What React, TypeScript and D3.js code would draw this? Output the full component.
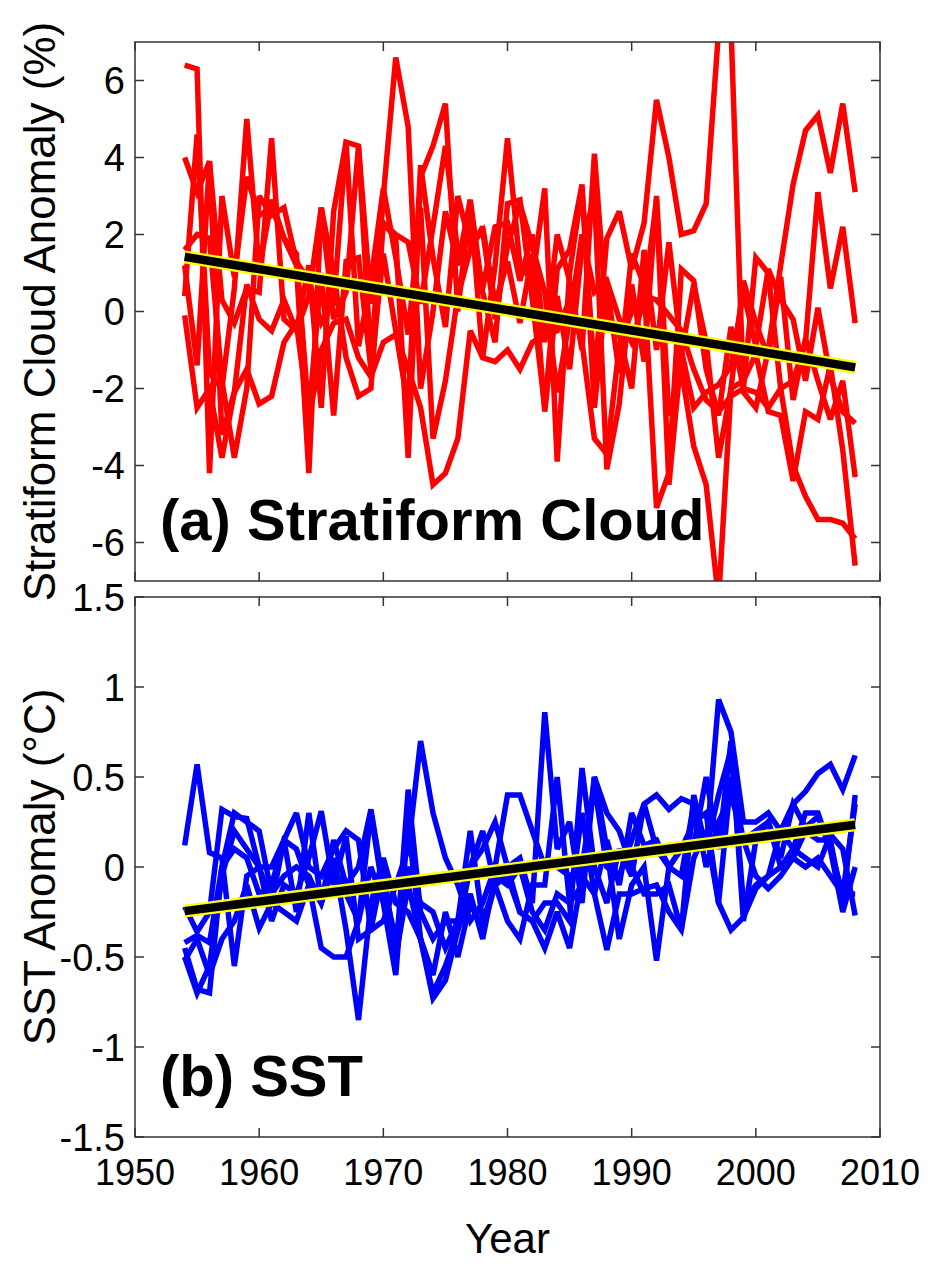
import { useEffect } from "react";
import * as d3 from "d3";

// Years covered by every series
const YEARS = d3.range(1954, 2009);

// (a) stratiform cloud anomaly (%), one row per ensemble member, 1954–2008
const CLOUD_1 = [6.4, 6.3, -4.2, 3.0, 0.9, 3.5, 2.5, 2.7, 1.9, 1.2, -4.2, 2.7, 1.0, -1.2, -2.2, -2.0, 2.3, 1.9, -3.8, 3.5, 4.3, 5.4, 0.0, 2.9, -1.2, 1.2, 4.5, 1.2, 0.8, 3.2, -3.9, 1.0, 3.2, -1.7, 1.9, 2.6, 1.1, 2.3, 5.5, 4.0, 2.0, 2.1, 2.8, 7.3, 7.4, -2.1, -2.5, -1.0, 1.2, 3.3, 4.7, 5.1, 3.6, 5.4, 3.1];
const CLOUD_2 = [4.0, 3.1, 3.9, 0.3, -0.3, 0.6, 0.5, 4.5, -0.2, -0.5, 0.4, 2.7, -0.2, 0.5, 4.3, -1.3, 3.0, 6.6, 4.8, -2.0, 0.0, 2.6, 1.2, 2.9, 0.5, -0.8, 2.8, 2.9, 0.3, -2.5, 1.1, 1.6, 3.3, -2.5, 0.7, -1.6, 1.5, 0.7, -5.1, -4.2, 1.1, 0.8, -1.5, -2.7, -0.4, -2.0, 1.4, 1.0, -2.0, -1.8, -0.8, 3.1, 0.6, 2.2, -0.3];
const CLOUD_3 = [1.6, 2.0, 1.9, -1.8, -3.8, -2.0, 3.0, 2.5, 2.7, 1.3, 0.8, -0.3, 0.2, 4.4, 4.3, 0.2, 2.3, 2.0, 1.8, 0.2, 2.2, 4.3, 1.5, 2.2, 0.6, 2.2, 2.3, 0.8, 2.0, -0.8, 2.0, 0.8, -1.0, 4.1, -0.2, -0.6, -2.0, 1.6, -1.0, 1.8, -1.0, -2.5, -2.1, -1.9, -1.4, 0.5, -0.9, 1.1, 0.3, -0.2, -1.8, 0.1, -1.7, -2.6, -2.9];
const CLOUD_4 = [0.4, 4.6, -1.6, -2.0, 0.6, 5.0, 1.1, 2.9, 1.9, 1.5, -2.7, 1.0, -2.7, 1.3, 1.4, -1.5, 1.5, -0.5, -2.5, 3.8, 1.4, -0.4, 3.0, 1.7, 2.1, -0.2, 1.7, 2.8, 1.7, 0.5, -2.1, -0.2, 2.0, 0.5, 0.8, -0.2, -0.8, 0.3, 2.9, -4.5, -1.1, 0.7, -0.8, -3.8, -2.0, 0.8, -0.3, -1.2, 0.9, -2.3, -0.7, -1.8, -2.8, -1.8, -4.3];
const CLOUD_5 = [-0.1, -2.5, -2.0, -3.8, -2.1, -1.5, -2.4, -2.2, -0.8, -0.3, -2.8, -1.0, -0.3, -0.2, -1.2, -1.7, -0.8, -0.6, -1.5, -2.5, -4.5, -4.2, -3.3, -0.5, -1.2, -1.3, -1.0, -1.5, -0.8, -0.6, -0.5, 0.3, -0.8, -3.3, -3.7, -0.9, 0.0, 0.4, 0.3, -0.1, -0.5, -1.5, -2.3, -2.6, -2.2, -2.0, -2.1, -2.5, -2.0, -4.0, -4.8, -5.4, -5.4, -5.5, -5.9];
const CLOUD_6 = [1.2, -1.4, 3.9, -3.2, -2.1, 0.7, -0.2, -0.5, 0.3, -0.5, 1.2, -2.5, 2.6, 4.4, -0.9, 0.8, 3.2, 1.4, -0.6, 2.7, -3.3, -1.8, 0.4, 1.6, 2.2, 0.2, 1.3, -0.3, 1.5, -2.6, 0.4, -1.5, 1.7, 3.0, -4.1, -2.4, 0.7, -1.3, 3.0, -2.7, -1.5, -3.5, -4.5, -7.5, -2.0, -1.8, -1.1, -2.6, -2.7, -4.4, -2.6, -2.8, -1.4, -3.6, -6.6];
const CLOUD_SERIES = [CLOUD_1, CLOUD_2, CLOUD_3, CLOUD_4, CLOUD_5, CLOUD_6];
const CLOUD_TREND_YEARS = [1954, 2008];
const CLOUD_TREND = [1.42, -1.45];

// (b) SST anomaly (°C)
const SST_1 = [0.12, 0.57, 0.08, 0.05, -0.55, -0.05, 0.0, 0.0, 0.15, 0.3, 0.0, -0.05, 0.1, 0.2, 0.15, -0.35, -0.3, -0.1, 0.1, 0.7, 0.3, 0.05, -0.1, -0.3, -0.2, 0.0, 0.4, 0.4, 0.2, 0.0, 0.0, -0.05, 0.0, 0.45, 0.0, -0.05, 0.15, 0.35, 0.4, 0.32, 0.38, 0.35, 0.1, 0.93, 0.75, 0.25, 0.25, 0.3, 0.2, 0.35, 0.42, 0.52, 0.57, 0.43, 0.62];
const SST_2 = [-0.22, -0.36, -0.25, 0.32, 0.28, 0.27, 0.0, -0.3, -0.1, -0.15, 0.05, 0.31, -0.1, 0.17, -0.4, -0.35, 0.0, -0.5, 0.43, -0.25, -0.4, -0.3, -0.3, 0.2, -0.3, -0.1, 0.0, 0.05, -0.2, 0.86, 0.1, 0.25, -0.2, 0.5, 0.1, -0.4, -0.1, 0.0, -0.52, 0.0, 0.1, 0.12, 0.5, 0.1, 0.7, -0.3, 0.15, 0.25, 0.0, 0.05, 0.2, 0.15, 0.15, -0.2, 0.4];
const SST_3 = [-0.42, -0.38, -0.42, 0.0, 0.1, 0.05, -0.15, -0.1, 0.15, -0.25, 0.3, -0.2, 0.15, -0.1, 0.0, 0.32, -0.1, -0.4, 0.0, -0.2, -0.25, -0.45, -0.3, 0.0, 0.2, -0.1, -0.3, -0.4, -0.1, -0.1, 0.5, -0.2, -0.1, 0.5, 0.3, 0.2, 0.0, -0.15, -0.15, -0.1, -0.35, 0.4, 0.1, 0.4, 0.65, -0.2, -0.1, -0.05, 0.2, 0.1, 0.3, 0.3, 0.1, -0.15, 0.35];
const SST_4 = [-0.45, -0.68, -0.7, 0.0, 0.3, 0.25, 0.2, -0.15, -0.05, 0.0, -0.05, -0.2, 0.0, -0.15, -0.3, 0.0, -0.2, -0.6, 0.25, -0.4, -0.7, -0.55, -0.35, 0.0, 0.1, 0.25, 0.0, -0.25, -0.3, -0.2, -0.2, -0.3, 0.55, 0.0, -0.2, 0.1, -0.05, 0.35, 0.1, 0.0, -0.05, 0.35, 0.0, 0.25, 0.4, 0.15, 0.2, 0.25, 0.05, 0.35, 0.22, 0.28, 0.1, -0.25, 0.0];
const SST_5 = [-0.5, -0.7, -0.55, -0.05, 0.2, 0.1, 0.0, -0.2, 0.15, 0.1, -0.1, -0.2, 0.05, -0.35, -0.85, -0.2, 0.05, -0.2, -0.25, -0.4, -0.73, -0.63, -0.35, -0.15, -0.4, -0.05, -0.1, 0.0, -0.25, -0.35, -0.15, -0.2, 0.3, -0.15, -0.46, -0.15, -0.15, -0.12, -0.1, -0.25, -0.35, 0.05, 0.2, -0.2, 0.5, 0.15, -0.05, -0.12, -0.05, 0.05, 0.0, 0.05, -0.05, -0.15, -0.15];
const SST_6 = [-0.52, -0.4, -0.6, -0.4, -0.3, -0.1, -0.34, -0.2, -0.25, -0.3, -0.1, -0.45, -0.5, -0.5, -0.3, 0.3, -0.15, -0.5, -0.1, -0.4, -0.6, -0.25, -0.5, -0.2, -0.35, -0.1, -0.05, -0.25, -0.3, -0.45, -0.25, -0.45, -0.05, -0.15, 0.15, -0.1, 0.3, 0.12, 0.15, 0.0, 0.1, 0.25, 0.3, -0.2, -0.35, -0.28, -0.12, -0.05, 0.0, 0.1, 0.05, 0.0, 0.18, 0.1, -0.27];
const SST_SERIES = [SST_1, SST_2, SST_3, SST_4, SST_5, SST_6];
const SST_TREND_YEARS = [1954, 2008];
const SST_TREND = [-0.245, 0.235];

const X_TICKS = [1950, 1960, 1970, 1980, 1990, 2000, 2010];
const CLOUD_TICKS = [-6, -4, -2, 0, 2, 4, 6];
const SST_TICKS = [-1.5, -1, -0.5, 0, 0.5, 1, 1.5];

const W = 936;
const H = 1265;
const FONT = "'Liberation Sans', Arial, Helvetica, sans-serif";
const LEFT = 135;
const RIGHT = 880;

interface PanelProps {
  id: string;
  top: number;
  bottom: number;
  domain: [number, number];
  ticks: number[];
  series: number[][];
  color: string;
  trendYears: number[];
  trend: number[];
  label: string;
  yLabel: string;
  showXLabels: boolean;
}

function Panel({ id, top, bottom, domain, ticks, series, color, trendYears, trend, label, yLabel, showXLabels }: PanelProps) {
  const x = d3.scaleLinear().domain([1950, 2010]).range([LEFT, RIGHT]);
  const y = d3.scaleLinear().domain(domain).range([bottom, top]);
  const line = d3.line<number>().x((_, i) => x(YEARS[i])).y((v) => y(v));
  const trendLine = d3.line<number>().x((_, i) => x(trendYears[i])).y((v) => y(v));
  const tickLen = 9;
  const axisColor = "#333";

  return (
    <g>
      <defs>
        <clipPath id={id}>
          <rect x={LEFT} y={top} width={RIGHT - LEFT} height={bottom - top} />
        </clipPath>
      </defs>

      <g clipPath={`url(#${id})`}>
        {series.map((s, i) => (
          <path key={i} d={line(s) ?? ""} fill="none" stroke={color} strokeWidth={5.5} strokeLinejoin="miter" strokeMiterlimit={3} />
        ))}
        <path d={trendLine(trend) ?? ""} fill="none" stroke="#ffff00" strokeWidth={13} />
        <path d={trendLine(trend) ?? ""} fill="none" stroke="#000" strokeWidth={8.5} />
      </g>

      {/* frame */}
      <rect x={LEFT} y={top} width={RIGHT - LEFT} height={bottom - top} fill="none" stroke={axisColor} strokeWidth={1.5} />

      {/* y ticks, both sides */}
      {ticks.map((t) => (
        <g key={t}>
          <line x1={LEFT} x2={LEFT + tickLen} y1={y(t)} y2={y(t)} stroke={axisColor} strokeWidth={1.5} />
          <line x1={RIGHT} x2={RIGHT - tickLen} y1={y(t)} y2={y(t)} stroke={axisColor} strokeWidth={1.5} />
          <text x={LEFT - 10} y={y(t)} dy="0.36em" textAnchor="end" fontSize={38} fontFamily={FONT} fill="#000">
            {t}
          </text>
        </g>
      ))}

      {/* x ticks, top and bottom */}
      {X_TICKS.map((t) => (
        <g key={t}>
          <line x1={x(t)} x2={x(t)} y1={bottom} y2={bottom - tickLen} stroke={axisColor} strokeWidth={1.5} />
          <line x1={x(t)} x2={x(t)} y1={top} y2={top + tickLen} stroke={axisColor} strokeWidth={1.5} />
          {showXLabels && (
            <text x={x(t)} y={bottom + 48} textAnchor="middle" fontSize={36} fontFamily={FONT} fill="#000">
              {t}
            </text>
          )}
        </g>
      ))}

      <text x={160} y={bottom - 41} fontSize={58} fontWeight="bold" fontFamily={FONT} fill="#000">
        {label}
      </text>

      <text
        transform={`translate(55, ${(top + bottom) / 2}) rotate(-90)`}
        textAnchor="middle"
        fontSize={44}
        fontFamily={FONT}
        fill="#000"
      >
        {yLabel}
      </text>
    </g>
  );
}

export default function App() {
  useEffect(() => {
    document.body.style.margin = "0";
  }, []);

  return (
    <svg width={W} height={H} style={{ display: "block", background: "#fff" }}>
      <rect width={W} height={H} fill="#fff" />
      <Panel
        id="clip-a"
        top={42}
        bottom={581}
        domain={[-7, 7]}
        ticks={CLOUD_TICKS}
        series={CLOUD_SERIES}
        color="#ff0000"
        trendYears={CLOUD_TREND_YEARS}
        trend={CLOUD_TREND}
        label="(a) Stratiform Cloud"
        yLabel="Stratiform Cloud Anomaly (%)"
        showXLabels={false}
      />
      <Panel
        id="clip-b"
        top={597}
        bottom={1137}
        domain={[-1.5, 1.5]}
        ticks={SST_TICKS}
        series={SST_SERIES}
        color="#0000ff"
        trendYears={SST_TREND_YEARS}
        trend={SST_TREND}
        label="(b) SST"
        yLabel="SST Anomaly (°C)"
        showXLabels={true}
      />
      <text x={(LEFT + RIGHT) / 2} y={1253} textAnchor="middle" fontSize={42} fontFamily={FONT} fill="#000">
        Year
      </text>
    </svg>
  );
}
